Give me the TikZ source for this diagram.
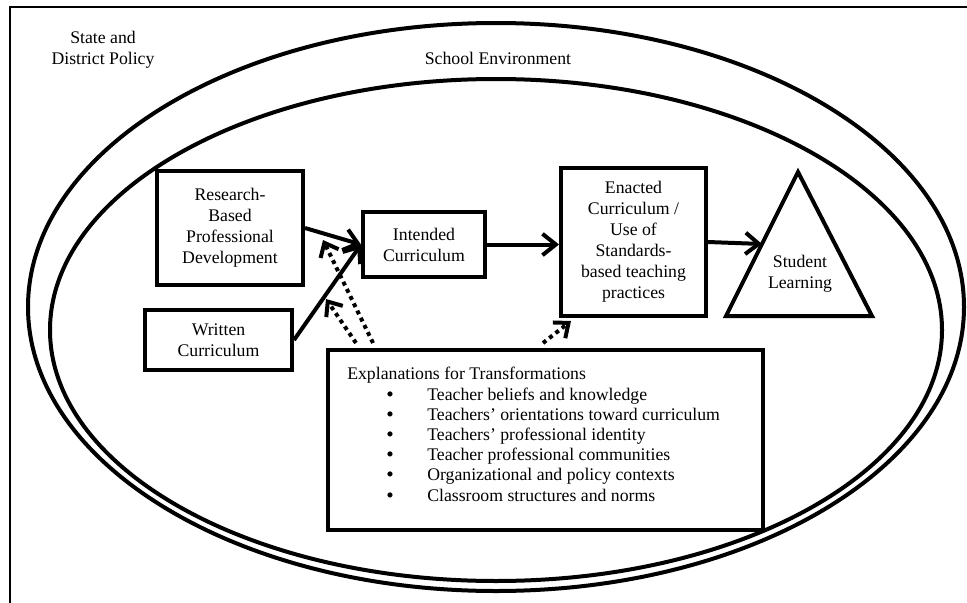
\documentclass[tikz,border=0pt]{standalone}
\usepackage{fontspec}
\setmainfont{Liberation Serif}
\usetikzlibrary{arrows.meta,calc}
\begin{document}
\begin{tikzpicture}[x=0.75pt,y=-0.75pt,
  txt/.style={font=\fontsize{13.3}{15.7}\selectfont,align=center,inner sep=0pt},
  box/.style={txt,draw,line width=3pt},
  ring/.style={line width=3pt},
  flow/.style={line width=3pt,-{Straight Barb[length=10pt,width=16pt,line width=3pt]}},
  infl/.style={line width=3pt,dash pattern=on 3pt off 3pt,-{Straight Barb[length=9pt,width=15pt,line width=3pt]}},
  item/.style={font=\fontsize{13.3}{15}\selectfont,anchor=base west,inner sep=0pt},
  dot/.style={font=\fontsize{16}{15}\selectfont,anchor=base,inner sep=0pt}]
\useasboundingbox (0,0) rectangle (967,603);

% policy frame and the two nested environments
\draw[line width=1.5pt] (10,603) -- (10,7) -- (967,7);
\draw[ring] (496,307) ellipse [x radius=468, y radius=284];
\draw[ring] (496,330) ellipse [x radius=446, y radius=251];
\node[txt] (policy) at (103,50) {State and\\District Policy};
\node[txt] (school) at (498,58) {School Environment};

% curriculum boxes
\node[box,minimum width=109.5pt,minimum height=85.5pt] (rbpd) at (230,228)
  {Research-\\Based\\Professional\\Development};
\node[box,minimum width=110.25pt,minimum height=45pt] (wc) at (218.5,340)
  {Written\\Curriculum};
\node[box,minimum width=91.5pt,minimum height=48.75pt] (ic) at (424,244.5)
  {Intended\\Curriculum};
\node[box,minimum width=108.75pt,minimum height=111pt] (ec) at (633.5,242)
  {Enacted\\Curriculum /\\Use of\\Standards-\\based teaching\\practices};

% student learning triangle
\coordinate (apex) at (798,172);
\coordinate (bl) at (726,316);
\coordinate (br) at (872,316);
\draw[line width=3pt,line join=miter] (apex) -- (bl) -- (br) -- cycle;
\node[txt] (sl) at (800,274) {Student\\Learning};

% explanations box
\node[draw,line width=3pt,minimum width=326.25pt,minimum height=135pt,inner sep=0pt] (ex) at (545.5,440) {};
\node[item] (ext) at (347,379) {Explanations for Transformations};
\node[dot] (b1) at (390,401) {\textbullet};
\node[item] (i1) at (427,400) {Teacher beliefs and knowledge};
\node[dot] (b2) at (390,421.2) {\textbullet};
\node[item] (i2) at (427,420.2) {Teachers’ orientations toward curriculum};
\node[dot] (b3) at (390,441.4) {\textbullet};
\node[item] (i3) at (427,440.4) {Teachers’ professional identity};
\node[dot] (b4) at (390,461.6) {\textbullet};
\node[item] (i4) at (427,460.6) {Teacher professional communities};
\node[dot] (b5) at (390,481.8) {\textbullet};
\node[item] (i5) at (427,480.8) {Organizational and policy contexts};
\node[dot] (b6) at (390,502) {\textbullet};
\node[item] (i6) at (427,501) {Classroom structures and norms};

% solid flow arrows
\draw[flow] (rbpd.east) -- (ic.west);
\draw[flow] (wc.east) -- (ic.west);
\draw[flow] (ic.east) -- (ic.east -| ec.west);
\draw[flow] (ec.east) -- ($(apex)!0.5!(bl)$);

% dotted influence arrows
\coordinate (t1) at (323,240);
\coordinate (t2) at (326,299);
\draw[infl] ($(ex.north west)+(47,-5)$) -- (t1);
\draw[infl] ($(ex.north west)+(30,-5)$) -- (t2);
\draw[infl] ($(ex.north west)+(217,-5)$) -- ($(ec.south west)+(12,3)$);
\end{tikzpicture}
\end{document}
